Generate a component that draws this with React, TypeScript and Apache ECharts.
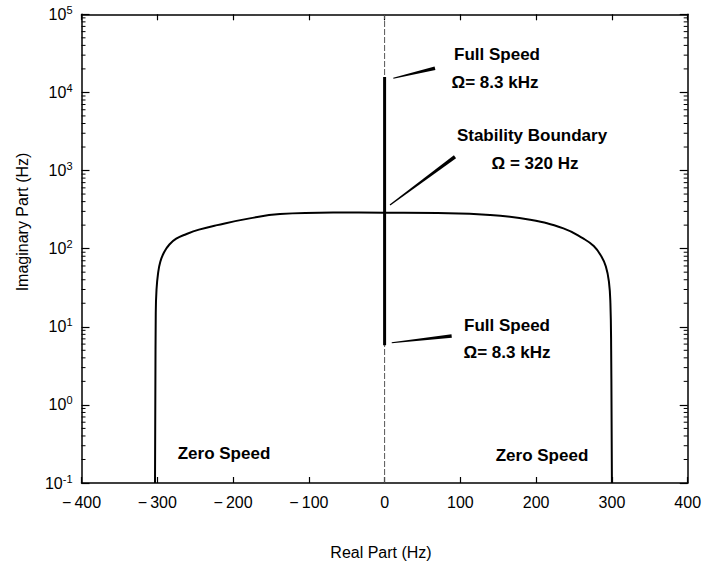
import React, { useEffect, useRef } from "react";
import * as echarts from "echarts";

// Root-locus curve (real part Hz, imaginary part Hz)
const locusX = [-303, -302, -301, -299, -296, -291, -284, -275, -262, -245, -221, -178, -138, -68, 0, 70, 139, 192, 236, 262, 276, 286, 292, 296, 298, 299, 300];
const locusY = [0.1, 15, 30, 48, 68, 90, 113, 134, 153, 175, 200, 244, 277, 290, 288, 285, 270, 234, 182, 135, 108, 80, 59, 38, 20, 5, 0.1];

// Full-speed branch on the imaginary axis
const fullSpeedX = [0, 0];
const fullSpeedY = [5.8, 15800];

// Imaginary axis reference line
const axisRefX = [0, 0];
const axisRefY = [0.1, 100000];

// Annotation leader lines: [x1, y1, x2, y2] in data units (near end, far end)
const leaderTop = [11.5, 15200, 66.5, 20400];
const leaderStab = [7.1, 363, 92.9, 1503];
const leaderLow = [9.4, 6.24, 88.5, 7.6];

const yDecades = [-1, 0, 1, 2, 3, 4, 5];
const minorMultipliers = [2, 3, 4, 5, 6, 7, 8, 9];

const FONT = "Liberation Sans, Arial, sans-serif";

export default function App() {
  const ref = useRef<HTMLDivElement>(null);

  useEffect(() => {
    if (!ref.current) return;
    const chart = echarts.init(ref.current, undefined, { renderer: "svg" });

    const minorTicks: number[] = [];
    yDecades.slice(0, -1).forEach((d) => {
      minorMultipliers.forEach((m) => minorTicks.push(m * Math.pow(10, d)));
    });

    const fmtX = (v: number) => (v < 0 ? "\u2212\u2009" + Math.abs(v) : String(v));
    const fmtY = (v: number) => {
      const e = Math.round(Math.log10(v));
      return "10{sup|" + (e < 0 ? "-" + Math.abs(e) : e) + "}";
    };

    const xCommon = {
      type: "value" as const,
      min: -400,
      max: 400,
      interval: 100,
      splitLine: { show: false },
      axisLine: { show: true, onZero: false, lineStyle: { color: "#000", width: 1.5 } },
      axisTick: { show: true, inside: true, length: 6, lineStyle: { color: "#000", width: 1.2 } },
    };
    const yCommon = {
      type: "log" as const,
      logBase: 10,
      min: 0.1,
      max: 100000,
      splitLine: { show: false },
      minorTick: { show: false },
      axisLine: { show: true, onZero: false, lineStyle: { color: "#000", width: 1.5 } },
      axisTick: { show: true, inside: true, length: 8, lineStyle: { color: "#000", width: 1.2 } },
    };

    chart.setOption({
      animation: false,
      backgroundColor: "#fff",
      grid: { left: 81.5, top: 14.3, right: 18.3, bottom: 80, containLabel: false },
      xAxis: [
        {
          ...xCommon,
          position: "bottom",
          axisLabel: {
            show: true,
            formatter: fmtX,
            margin: 11,
            color: "#000",
            fontFamily: FONT,
            fontSize: 16,
          },
        },
        { ...xCommon, position: "top", axisLabel: { show: false } },
      ],
      yAxis: [
        {
          ...yCommon,
          position: "left",
          axisLabel: {
            show: true,
            formatter: fmtY,
            margin: 9,
            color: "#000",
            fontFamily: FONT,
            fontSize: 16,
            rich: {
              sup: { fontSize: 11, fontFamily: FONT, color: "#000", verticalAlign: "bottom", padding: [0, 0, 9, 0] },
            },
          },
        },
        { ...yCommon, position: "right", axisLabel: { show: false } },
      ],
      series: [
        {
          type: "line",
          data: axisRefX.map((x, i) => [x, axisRefY[i]]),
          showSymbol: false,
          silent: true,
          lineStyle: { color: "#555", width: 1, type: [6, 2] },
          z: 1,
        },
        {
          type: "line",
          data: locusX.map((x, i) => [x, locusY[i]]),
          showSymbol: false,
          smooth: 0.45,
          silent: true,
          lineStyle: { color: "#000", width: 2 },
          z: 3,
        },
        {
          type: "line",
          data: fullSpeedX.map((x, i) => [x, fullSpeedY[i]]),
          showSymbol: false,
          silent: true,
          lineStyle: { color: "#000", width: 3 },
          z: 3,
        },
        {
          type: "custom",
          data: minorTicks.map((v) => [0, v]),
          silent: true,
          clip: false,
          renderItem: (_params: any, api: any) => {
            const p = api.coord([-400, api.value(1)]);
            const q = api.coord([400, api.value(1)]);
            return {
              type: "group",
              children: [
                { type: "line", shape: { x1: p[0], y1: p[1], x2: p[0] + 4, y2: p[1] }, style: { stroke: "#000", lineWidth: 1 } },
                { type: "line", shape: { x1: q[0] - 4, y1: q[1], x2: q[0], y2: q[1] }, style: { stroke: "#000", lineWidth: 1 } },
              ],
            };
          },
        },
      ],
    });

    const wedge = (seg: number[]) => {
      const a = chart.convertToPixel({ gridIndex: 0 }, [seg[0], seg[1]]) as number[];
      const b = chart.convertToPixel({ gridIndex: 0 }, [seg[2], seg[3]]) as number[];
      const dx = b[0] - a[0];
      const dy = b[1] - a[1];
      const len = Math.sqrt(dx * dx + dy * dy) || 1;
      const nx = -dy / len;
      const ny = dx / len;
      const w1 = 0.6;
      const w2 = 1.8;
      return {
        type: "polygon",
        silent: true,
        shape: {
          points: [
            [a[0] + nx * w1, a[1] + ny * w1],
            [b[0] + nx * w2, b[1] + ny * w2],
            [b[0] - nx * w2, b[1] - ny * w2],
            [a[0] - nx * w1, a[1] - ny * w1],
          ],
        },
        style: { fill: "#000" },
        z: 10,
      };
    };

    const label = (text: string, x: number, y: number) => ({
      type: "text",
      x,
      y,
      silent: true,
      style: {
        text,
        fill: "#000",
        font: "bold 17px " + FONT,
        align: "center",
        verticalAlign: "middle",
      },
      z: 10,
    });

    chart.setOption({
      graphic: [
        wedge(leaderTop),
        wedge(leaderStab),
        wedge(leaderLow),
        label("Full Speed", 497, 54),
        label("\u03A9= 8.3 kHz", 495, 82),
        label("Stability Boundary", 532, 135),
        label("\u03A9 = 320 Hz", 535, 163),
        label("Full Speed", 507, 325),
        label("\u03A9= 8.3 kHz", 507, 352),
        label("Zero Speed", 224, 453),
        label("Zero Speed", 542, 455),
        {
          type: "text",
          x: 381,
          y: 552,
          silent: true,
          style: { text: "Real Part (Hz)", fill: "#000", font: "16px " + FONT, align: "center", verticalAlign: "middle" },
        },
        {
          type: "text",
          x: 22,
          y: 222,
          rotation: Math.PI / 2,
          silent: true,
          style: { text: "Imaginary Part (Hz)", fill: "#000", font: "16px " + FONT, align: "center", verticalAlign: "middle" },
        },
      ],
    });

    return () => chart.dispose();
  }, []);

  return (
    <div
      ref={ref}
      style={{ position: "absolute", left: 0, top: 0, width: 706, height: 563, background: "#fff" }}
    />
  );
}
